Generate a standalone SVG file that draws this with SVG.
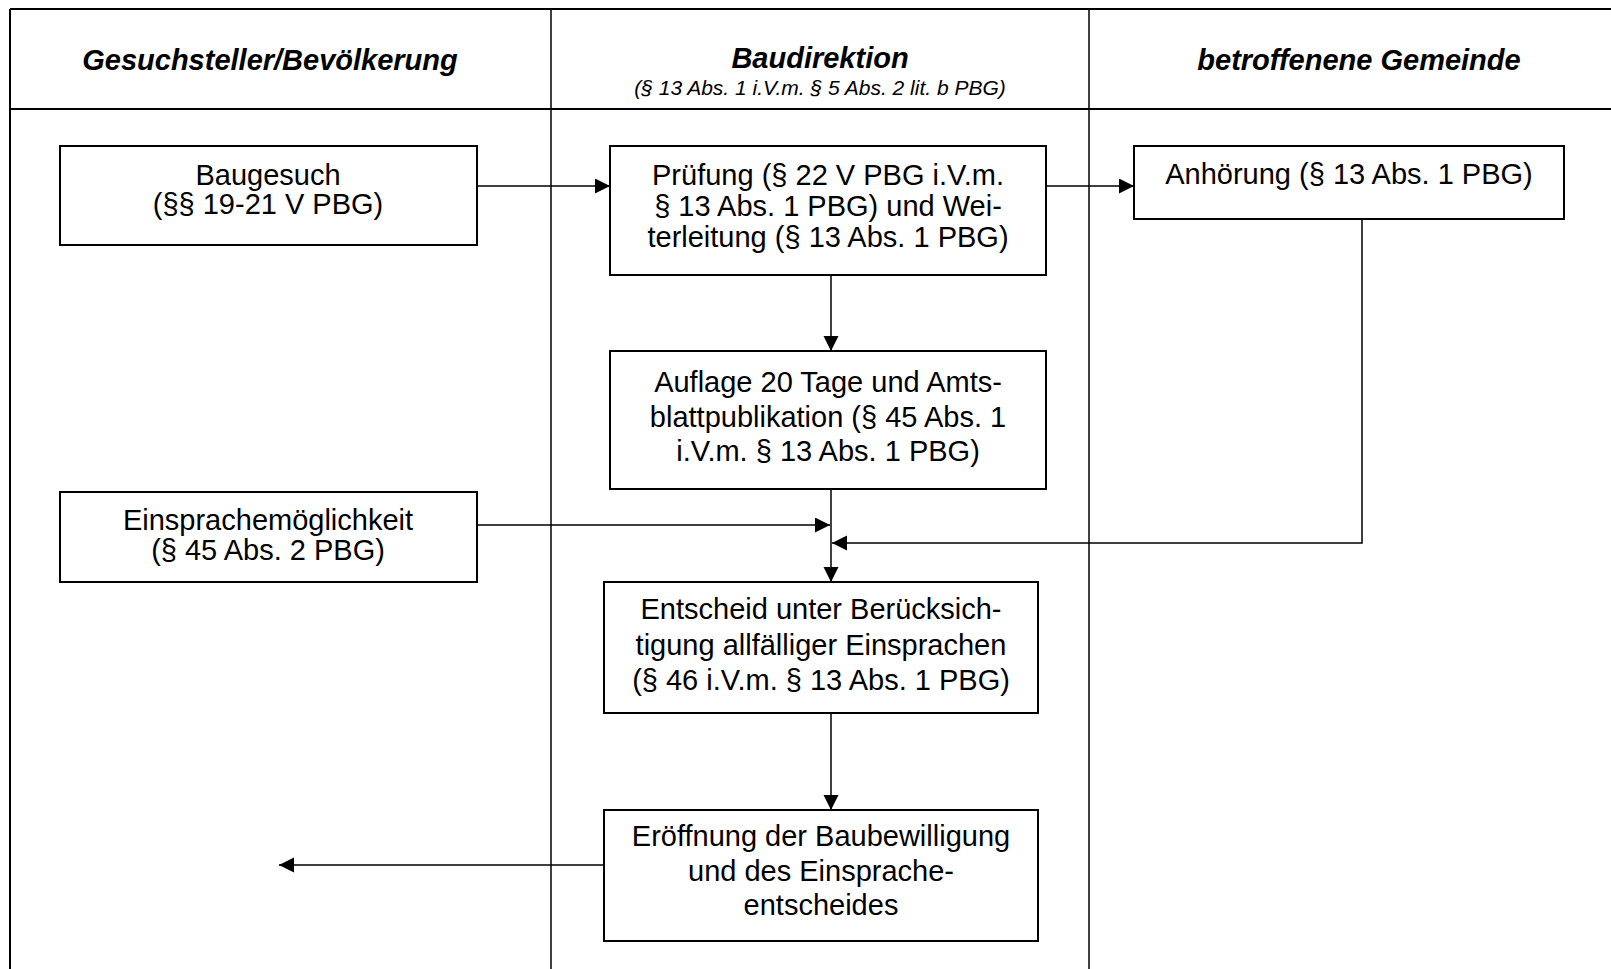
<svg xmlns="http://www.w3.org/2000/svg" width="1611" height="969" viewBox="0 0 1611 969">
<style>
.bg{fill:#ffffff}
.tbl{stroke:#000;stroke-width:2;fill:none}
.col{stroke:#000;stroke-width:1.5;fill:none}
.box{fill:#fff;stroke:#000;stroke-width:2}
.con{stroke:#000;stroke-width:1.5;fill:none}
.hd{font-family:"Liberation Sans",Arial,sans-serif;font-size:29px;font-weight:bold;font-style:italic;text-anchor:middle;fill:#000}
.sub{font-family:"Liberation Sans",Arial,sans-serif;font-size:21px;font-style:italic;text-anchor:middle;fill:#000}
.t{font-family:"Liberation Sans",Arial,sans-serif;font-size:29px;text-anchor:middle;fill:#000}
</style>
<defs>
<marker id="ah" markerWidth="16" markerHeight="16" refX="15" refY="7.5" orient="auto" markerUnits="userSpaceOnUse">
<path d="M0,0 L15,7.5 L0,15 Z" fill="#000"/>
</marker>
</defs>
<rect class="bg" x="0" y="0" width="1611" height="969"/>
<g id="table">
<line class="tbl" x1="10" y1="9" x2="1611" y2="9"/>
<line class="tbl" x1="10" y1="9" x2="10" y2="969"/>
<line class="tbl" x1="10" y1="109" x2="1611" y2="109"/>
<line class="col" x1="551" y1="9" x2="551" y2="969"/>
<line class="col" x1="1089" y1="9" x2="1089" y2="969"/>
<text class="hd" x="270" y="70">Gesuchsteller/Bevölkerung</text>
<text class="hd" x="820" y="68">Baudirektion</text>
<text class="sub" x="820" y="95">(§ 13 Abs. 1 i.V.m. § 5 Abs. 2 lit. b PBG)</text>
<text class="hd" x="1359" y="70">betroffenene Gemeinde</text>
</g>
<g id="connectors">
<line class="con" x1="477" y1="186" x2="610" y2="186" marker-end="url(#ah)"/>
<line class="con" x1="1046" y1="186" x2="1134" y2="186" marker-end="url(#ah)"/>
<line class="con" x1="831" y1="275" x2="831" y2="351" marker-end="url(#ah)"/>
<line class="con" x1="477" y1="525" x2="830" y2="525" marker-end="url(#ah)"/>
<polyline class="con" points="1362,219 1362,543 832,543" marker-end="url(#ah)"/>
<line class="con" x1="831" y1="489" x2="831" y2="582" marker-end="url(#ah)"/>
<line class="con" x1="831" y1="713" x2="831" y2="810" marker-end="url(#ah)"/>
<line class="con" x1="604" y1="865" x2="279" y2="865" marker-end="url(#ah)"/>
</g>
<g id="baugesuch">
<rect class="box" x="60" y="146" width="417" height="99"/>
<text class="t" x="268" y="185">Baugesuch</text>
<text class="t" x="268" y="214">(§§ 19-21 V PBG)</text>
</g>
<g id="pruefung">
<rect class="box" x="610" y="146" width="436" height="129"/>
<text class="t" x="828" y="185">Prüfung (§ 22 V PBG i.V.m.</text>
<text class="t" x="828" y="216">§ 13 Abs. 1 PBG) und Wei-</text>
<text class="t" x="828" y="247">terleitung (§ 13 Abs. 1 PBG)</text>
</g>
<g id="anhoerung">
<rect class="box" x="1134" y="146" width="430" height="73"/>
<text class="t" x="1349" y="184">Anhörung (§ 13 Abs. 1 PBG)</text>
</g>
<g id="auflage">
<rect class="box" x="610" y="351" width="436" height="138"/>
<text class="t" x="828" y="392">Auflage 20 Tage und Amts-</text>
<text class="t" x="828" y="427">blattpublikation (§ 45 Abs. 1</text>
<text class="t" x="828" y="461">i.V.m. § 13 Abs. 1 PBG)</text>
</g>
<g id="einsprache">
<rect class="box" x="60" y="492" width="417" height="90"/>
<text class="t" x="268" y="530">Einsprachemöglichkeit</text>
<text class="t" x="268" y="560">(§ 45 Abs. 2 PBG)</text>
</g>
<g id="entscheid">
<rect class="box" x="604" y="582" width="434" height="131"/>
<text class="t" x="821" y="619">Entscheid unter Berücksich-</text>
<text class="t" x="821" y="655">tigung allfälliger Einsprachen</text>
<text class="t" x="821" y="690">(§ 46 i.V.m. § 13 Abs. 1 PBG)</text>
</g>
<g id="eroeffnung">
<rect class="box" x="604" y="810" width="434" height="131"/>
<text class="t" x="821" y="846">Eröffnung der Baubewilligung</text>
<text class="t" x="821" y="881">und des Einsprache-</text>
<text class="t" x="821" y="915">entscheides</text>
</g>
</svg>
